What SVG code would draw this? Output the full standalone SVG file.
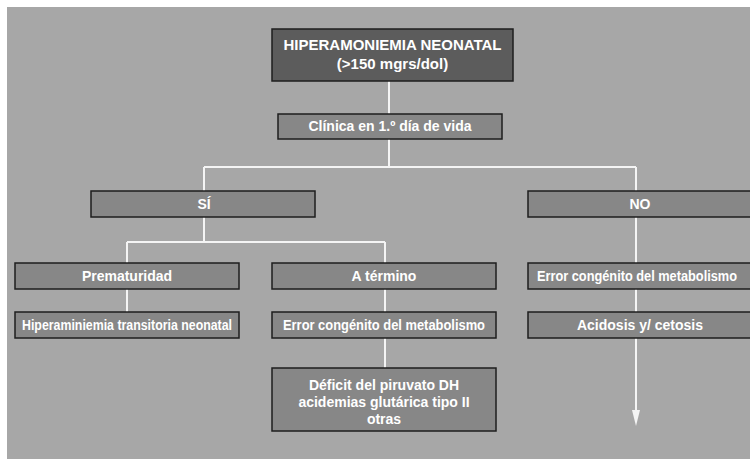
<svg xmlns="http://www.w3.org/2000/svg" width="750" height="459" viewBox="0 0 750 459">
  <style>
    .box { fill: #878787; stroke: #1e1e1e; stroke-width: 1.5; }
    .head { fill: #5c5c5c; stroke: #1e1e1e; stroke-width: 1.5; }
    .lbl { font-family: "Liberation Sans", Arial, sans-serif; font-weight: bold; fill: #ffffff; text-anchor: middle; font-size: 14px; }
    .big { font-size: 15px; }
    .wire { stroke: #f4f4f4; stroke-width: 2; fill: none; }
    .tip { fill: #f4f4f4; }
  </style>

  <!-- page and grey panel -->
  <rect x="0" y="0" width="750" height="459" fill="#ffffff"/>
  <rect x="7" y="7" width="743" height="452" fill="#a7a7a7"/>

  <!-- connectors -->
  <g id="connectors">
    <path class="wire" d="M389,81 V114"/>
    <path class="wire" d="M389,139 V167 M204,167 H636 M204,167 V191 M636,167 V191"/>
    <path class="wire" d="M204,217 V242 M127,242 H385 M127,242 V263 M385,242 V263"/>
    <path class="wire" d="M127,289 V312 M385,289 V312 M385,338 V368"/>
    <path class="wire" d="M636,217 V263 M636,289 V312"/>
    <path class="wire" d="M636,338 V411"/>
    <path class="tip" d="M632,410 L640,410 L636,426 Z"/>
  </g>

  <g id="hiperamoniemia">
    <rect class="head" x="272" y="29" width="241" height="52"/>
    <text class="lbl big" x="392.5" y="50">HIPERAMONIEMIA NEONATAL</text>
    <text class="lbl big" x="392.5" y="69">(&gt;150 mgrs/dol)</text>
  </g>

  <g id="clinica">
    <rect class="box" x="278" y="114" width="224" height="25"/>
    <text class="lbl" x="390" y="131">Clínica en 1.º día de vida</text>
  </g>

  <g id="si">
    <rect class="box" x="91" y="191" width="224" height="26"/>
    <text class="lbl" x="204" y="209">SÍ</text>
  </g>

  <!-- the right-hand column runs off the right edge of the panel -->
  <g id="no">
    <path class="box" d="M750,191 H528 V217 H750"/>
    <text class="lbl" x="640" y="209">NO</text>
  </g>

  <g id="prematuridad">
    <rect class="box" x="15" y="263" width="224" height="26"/>
    <text class="lbl" x="127" y="281">Prematuridad</text>
  </g>

  <g id="termino">
    <rect class="box" x="272" y="263" width="224" height="26"/>
    <text class="lbl" x="384" y="281">A término</text>
  </g>

  <g id="error-no">
    <path class="box" d="M750,263 H528 V289 H750"/>
    <text class="lbl" x="637" y="281" textLength="200" lengthAdjust="spacingAndGlyphs">Error congénito del metabolismo</text>
  </g>

  <g id="transitoria">
    <rect class="box" x="15" y="312" width="224" height="26"/>
    <text class="lbl" x="127" y="330" textLength="210" lengthAdjust="spacingAndGlyphs">Hiperaminiemia transitoria neonatal</text>
  </g>

  <g id="error-termino">
    <rect class="box" x="272" y="312" width="224" height="26"/>
    <text class="lbl" x="384" y="330" textLength="202" lengthAdjust="spacingAndGlyphs">Error congénito del metabolismo</text>
  </g>

  <g id="acidosis">
    <path class="box" d="M750,312 H528 V338 H750"/>
    <text class="lbl" x="640" y="330">Acidosis y/ cetosis</text>
  </g>

  <g id="deficit">
    <rect class="box" x="272" y="368" width="224" height="63"/>
    <text class="lbl" x="384" y="390">Déficit del piruvato DH</text>
    <text class="lbl" x="384" y="407">acidemias glutárica tipo II</text>
    <text class="lbl" x="384" y="424">otras</text>
  </g>
</svg>
